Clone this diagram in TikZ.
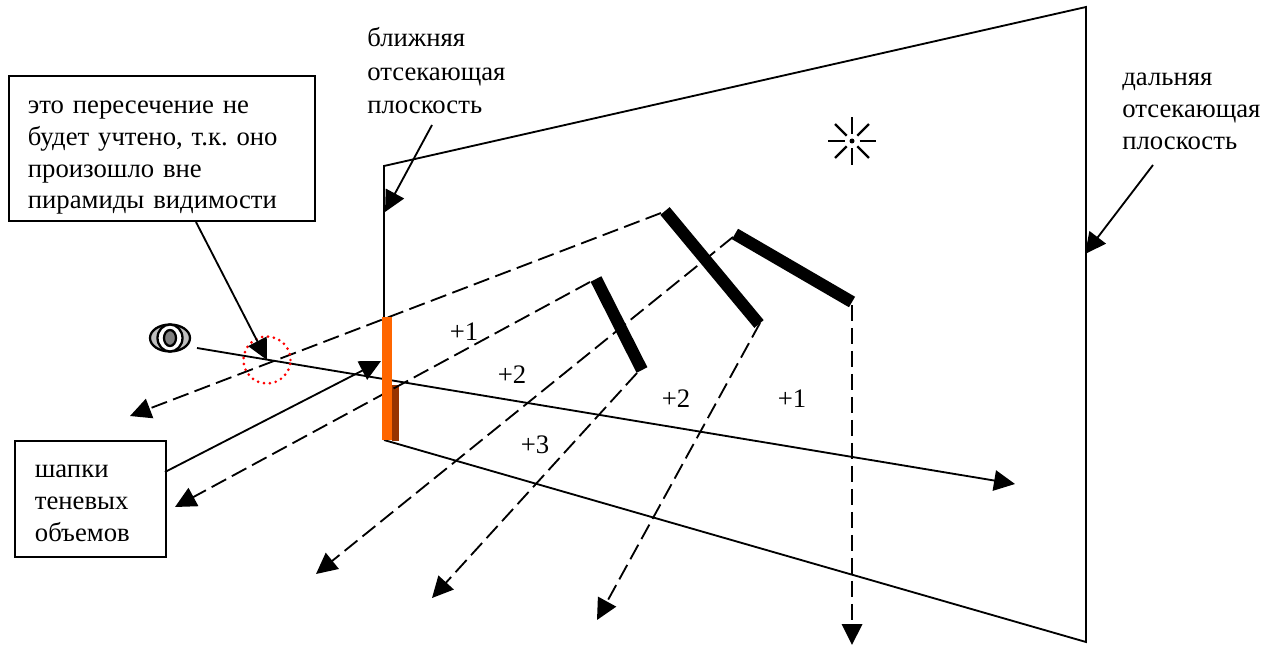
\documentclass[tikz,border=0pt]{standalone}
\usepackage{fontspec}
\setmainfont{Liberation Serif}
\usetikzlibrary{arrows.meta,calc}
\definecolor{capfront}{HTML}{FF6600}
\definecolor{capside}{HTML}{993300}
\frenchspacing
\tikzset{
  bigtip/.style={-{Triangle[length=0.42cm,width=0.41cm]}},
  thin line/.style={line width=1.05pt},
  ray/.style={thin line,bigtip,dash pattern=on 0.33cm off 0.13cm},
  pointer/.style={thin line,bigtip},
  blocker/.style={line width=6.9pt},
  lbl/.style={anchor=north west,align=left,inner sep=0pt,font=\fontsize{15.2}{18.2}\selectfont},
  signlbl/.style={font=\fontsize{15.2}{18}\selectfont,inner sep=0pt},
  notebox/.style={draw,thin line,anchor=north west,align=left,font=\fontsize{15.2}{18.2}\selectfont,inner sep=0pt}
}
\begin{document}
\begin{tikzpicture}[x=0.02cm,y=-0.02cm]
  \useasboundingbox (0,0) rectangle (1274,645);
  % clipping planes
  \coordinate (nearA) at (384,166);
  \coordinate (farA) at (1086,7);
  \coordinate (farB) at (1086,642);
  \coordinate (nearB) at (384,440);
  \coordinate (nearC) at (384,318);
  \draw[thin line] (nearC) -- (nearA) -- (farA) -- (farB) -- (nearB);
  % back of the cap
  \fill[capside] (392,385) rectangle (399,441);
  % shadow rays, from the occluders
  \foreach \n/\a/\b/\c/\d in {r1/661/213/130/416,r2/590/282/175/507,r3/733/237/316/574,r4/637/373/432/598,r5/760/323/597/620,r6/852/305/852/645}{
    \coordinate (\n s) at (\a,\b);
    \coordinate (\n e) at (\c,\d);
    \draw[ray] (\n s) -- (\n e);
  }
  % eye
  \coordinate (eye) at (170,338);
  \fill[gray!50] (eye) ellipse (0.4cm and 0.27cm);
  \draw[line width=1.3pt] (eye) ellipse (0.4cm and 0.27cm);
  \draw[line width=1.3pt,fill=white] (eye) ellipse (0.25cm and 0.27cm);
  \draw[line width=1.3pt,fill=gray] (eye) ellipse (0.12cm and 0.16cm);
  \coordinate (viewS) at (197,348);
  \coordinate (viewE) at (1015,484);
  \draw[pointer] (viewS) -- (viewE);
  % front of the cap
  \fill[capfront] (382,317) rectangle (392,440);
  % occluders
  \foreach \n/\a/\b/\c/\d in {o1/665/211/759/324,o2/596/279/642/370,o3/735/234/852/302}{
    \coordinate (\n a) at (\a,\b);
    \coordinate (\n b) at (\c,\d);
    \draw[blocker] (\n a) -- (\n b);
  }
  % light
  \coordinate (lamp) at (852,141);
  \foreach \t in {0,45,...,315}{\draw[line width=1.3pt] ($(lamp)+(\t:0.15cm)$) -- ($(lamp)+(\t:0.48cm)$);}
  \fill (lamp) circle (0.05cm);
  % missed intersection
  \coordinate (miss) at (267,360);
  \draw[red,line width=1.7pt,dash pattern=on 0pt off 3.4pt,line cap=round] (miss) circle (0.47cm);
  % labels
  \node[lbl] (nearlbl) at (367,27) {ближняя\\[1pt]отсекающая\\[1pt]плоскость};
  \node[lbl] (farlbl) at (1122,73) {дальняя\\отсекающая\\плоскость};
  \node[notebox,minimum height=2.9cm,text width=5.36cm,inner xsep=0.38cm] (notebox) at (8,75) {\rule{0pt}{17.6pt}это пересечение не\\будет учтено, т.к. оно\\произошло вне\\пирамиды видимости};
  \node[notebox,minimum height=2.32cm,text width=2.22cm,inner xsep=0.4cm] (capbox) at (14,440) {\rule{0pt}{12.2pt}шапки\\теневых\\объемов};
  \foreach \n/\a/\b/\s in {p1/464/332/+1,p2/512/375/+2,p3/535/445/+3,p4/676/399/+2,p5/792/399/+1}{
    \node[signlbl] (\n) at (\a,\b) {\s};
  }
  % pointers
  \coordinate (nearS) at (432,125);
  \coordinate (nearT) at (385,212);
  \coordinate (farS) at (1153,165);
  \coordinate (farT) at (1085,254);
  \coordinate (noteS) at (196,222);
  \coordinate (capS) at (165,472);
  \coordinate (capT) at (381,361);
  \draw[pointer] (nearS) -- (nearT);
  \draw[pointer] (farS) -- (farT);
  \draw[pointer] (noteS) -- (miss);
  \draw[pointer] (capS) -- (capT);
\end{tikzpicture}
\end{document}
